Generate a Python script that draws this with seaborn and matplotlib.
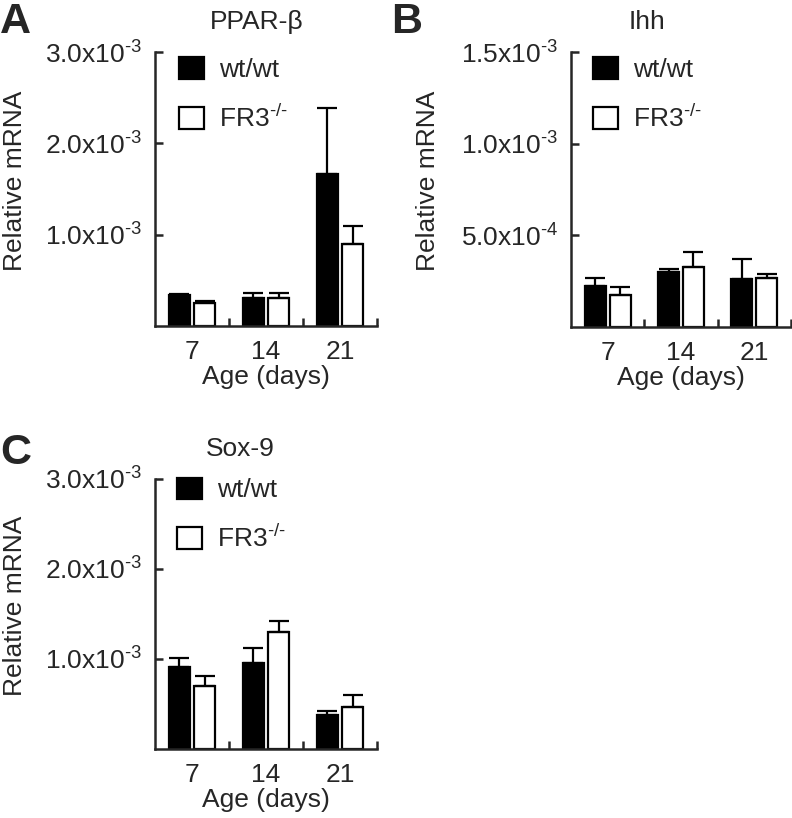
import numpy as np
import pandas as pd
import matplotlib
matplotlib.use('Agg')
import matplotlib.pyplot as plt
import seaborn as sns
from matplotlib.patches import Patch

HY = '\u2010'  # short hyphen, as in the original superscripts

ages = ['7', '14', '21']
genotypes = ['wt/wt', 'FR3$^{' + HY + '/' + HY + '}$']

# PPAR-beta (x1e-3)
ppar_wt = [0.34, 0.31, 1.66]
ppar_wt_err = [0.01, 0.05, 0.73]
ppar_ko = [0.25, 0.31, 0.90]
ppar_ko_err = [0.02, 0.05, 0.20]

# Ihh (x1e-3)
ihh_wt = [0.226, 0.298, 0.262]
ihh_wt_err = [0.041, 0.021, 0.108]
ihh_ko = [0.172, 0.325, 0.267]
ihh_ko_err = [0.048, 0.085, 0.022]

# Sox-9 (x1e-3)
sox_wt = [0.91, 0.96, 0.38]
sox_wt_err = [0.10, 0.16, 0.04]
sox_ko = [0.70, 1.30, 0.47]
sox_ko_err = [0.11, 0.12, 0.13]

ppar_ticks = [1.0e-3, 2.0e-3, 3.0e-3]
ppar_ticklabels = ['1.0x10$^{' + HY + '3}$', '2.0x10$^{' + HY + '3}$', '3.0x10$^{' + HY + '3}$']
ihh_ticks = [5.0e-4, 1.0e-3, 1.5e-3]
ihh_ticklabels = ['5.0x10$^{' + HY + '4}$', '1.0x10$^{' + HY + '3}$', '1.5x10$^{' + HY + '3}$']

sns.set_style('ticks')
plt.rcParams['font.family'] = ['Liberation Sans', 'DejaVu Sans']
plt.rcParams['mathtext.default'] = 'regular'
plt.rcParams['font.size'] = 19

LW = 1.8


def make_frame(wt, ko):
    rows = []
    for i, a in enumerate(ages):
        rows.append({'age': a, 'genotype': genotypes[0], 'value': wt[i] * 1e-3})
        rows.append({'age': a, 'genotype': genotypes[1], 'value': ko[i] * 1e-3})
    return pd.DataFrame(rows)


def draw_panel(ax, wt, wt_err, ko, ko_err, ticks, ticklabels, title, title_x,
               leg_x, leg_y, ylab_x):
    df = make_frame(wt, ko)
    sns.barplot(data=df, x='age', y='value', hue='genotype', order=ages,
                hue_order=genotypes, palette=['black', 'white'],
                edgecolor='black', linewidth=1.6, width=0.68, gap=0.15,
                saturation=1, errorbar=None, legend=False, ax=ax)

    # one-sided (upper) error bars on top of each bar
    for cont, err in zip(ax.containers, [wt_err, ko_err]):
        xs = [p.get_x() + p.get_width() / 2 for p in cont.patches]
        ys = [p.get_height() for p in cont.patches]
        e = np.array(err) * 1e-3
        ax.errorbar(xs, ys, yerr=[np.zeros_like(e), e], fmt='none',
                    ecolor='black', elinewidth=1.6, capsize=7, capthick=1.6,
                    zorder=1)

    ax.set_xlim(-0.5, 2.5)
    ax.set_ylim(0, ticks[-1])
    ax.set_yticks(ticks, labels=ticklabels)
    ax.set_xticks([0.5, 1.5, 2.5], minor=True)
    ax.tick_params(axis='y', direction='in', length=6, width=LW, pad=9,
                   labelsize=19)
    ax.tick_params(axis='x', which='major', length=0, pad=10, labelsize=19)
    ax.tick_params(axis='x', which='minor', direction='in', length=6, width=LW)
    sns.despine(ax=ax)
    for s in ['left', 'bottom']:
        ax.spines[s].set_linewidth(LW)

    ax.set_xlabel('Age (days)', fontsize=19, labelpad=1)
    ax.set_ylabel('Relative mRNA', fontsize=19)
    ax.yaxis.set_label_coords(ylab_x, 0.53)
    ax.text(title_x, 1.0 + 30 / 274, title, transform=ax.transAxes,
            ha='center', va='center', fontsize=19)

    handles = [Patch(facecolor='black', edgecolor='black', linewidth=1.6),
               Patch(facecolor='white', edgecolor='black', linewidth=1.6)]
    ax.legend(handles, genotypes, loc='upper left', bbox_to_anchor=(leg_x, leg_y),
              frameon=False, borderpad=0, borderaxespad=0, handlelength=0.95,
              handleheight=0.87, handletextpad=0.55, labelspacing=0.86,
              fontsize=19)


fig = plt.figure(figsize=(7.92, 8.18), dpi=100)
axA = fig.add_axes([155 / 792, 492 / 818, 222 / 792, 274 / 818])
axB = fig.add_axes([571 / 792, 491 / 818, 220 / 792, 275 / 818])
axC = fig.add_axes([155 / 792, 69 / 818, 222 / 792, 270 / 818])

draw_panel(axA, ppar_wt, ppar_wt_err, ppar_ko, ppar_ko_err, ppar_ticks,
           ppar_ticklabels, 'PPAR-β', 0.46, 0.11, 0.98, -0.575)
draw_panel(axB, ihh_wt, ihh_wt_err, ihh_ko, ihh_ko_err, ihh_ticks,
           ihh_ticklabels, 'Ihh', 0.345, 0.10, 0.98, -0.595)
draw_panel(axC, sox_wt, sox_wt_err, sox_ko, sox_ko_err, ppar_ticks,
           ppar_ticklabels, 'Sox-9', 0.383, 0.10, 1.005, -0.575)

for letter, x, y in [('A', 0, 33), ('B', 391, 33), ('C', 0, 464)]:
    fig.text(x / 792, 1 - y / 818, letter, ha='left', va='baseline',
             fontsize=31, fontweight='bold')

fig.savefig('out.png', dpi=100)
